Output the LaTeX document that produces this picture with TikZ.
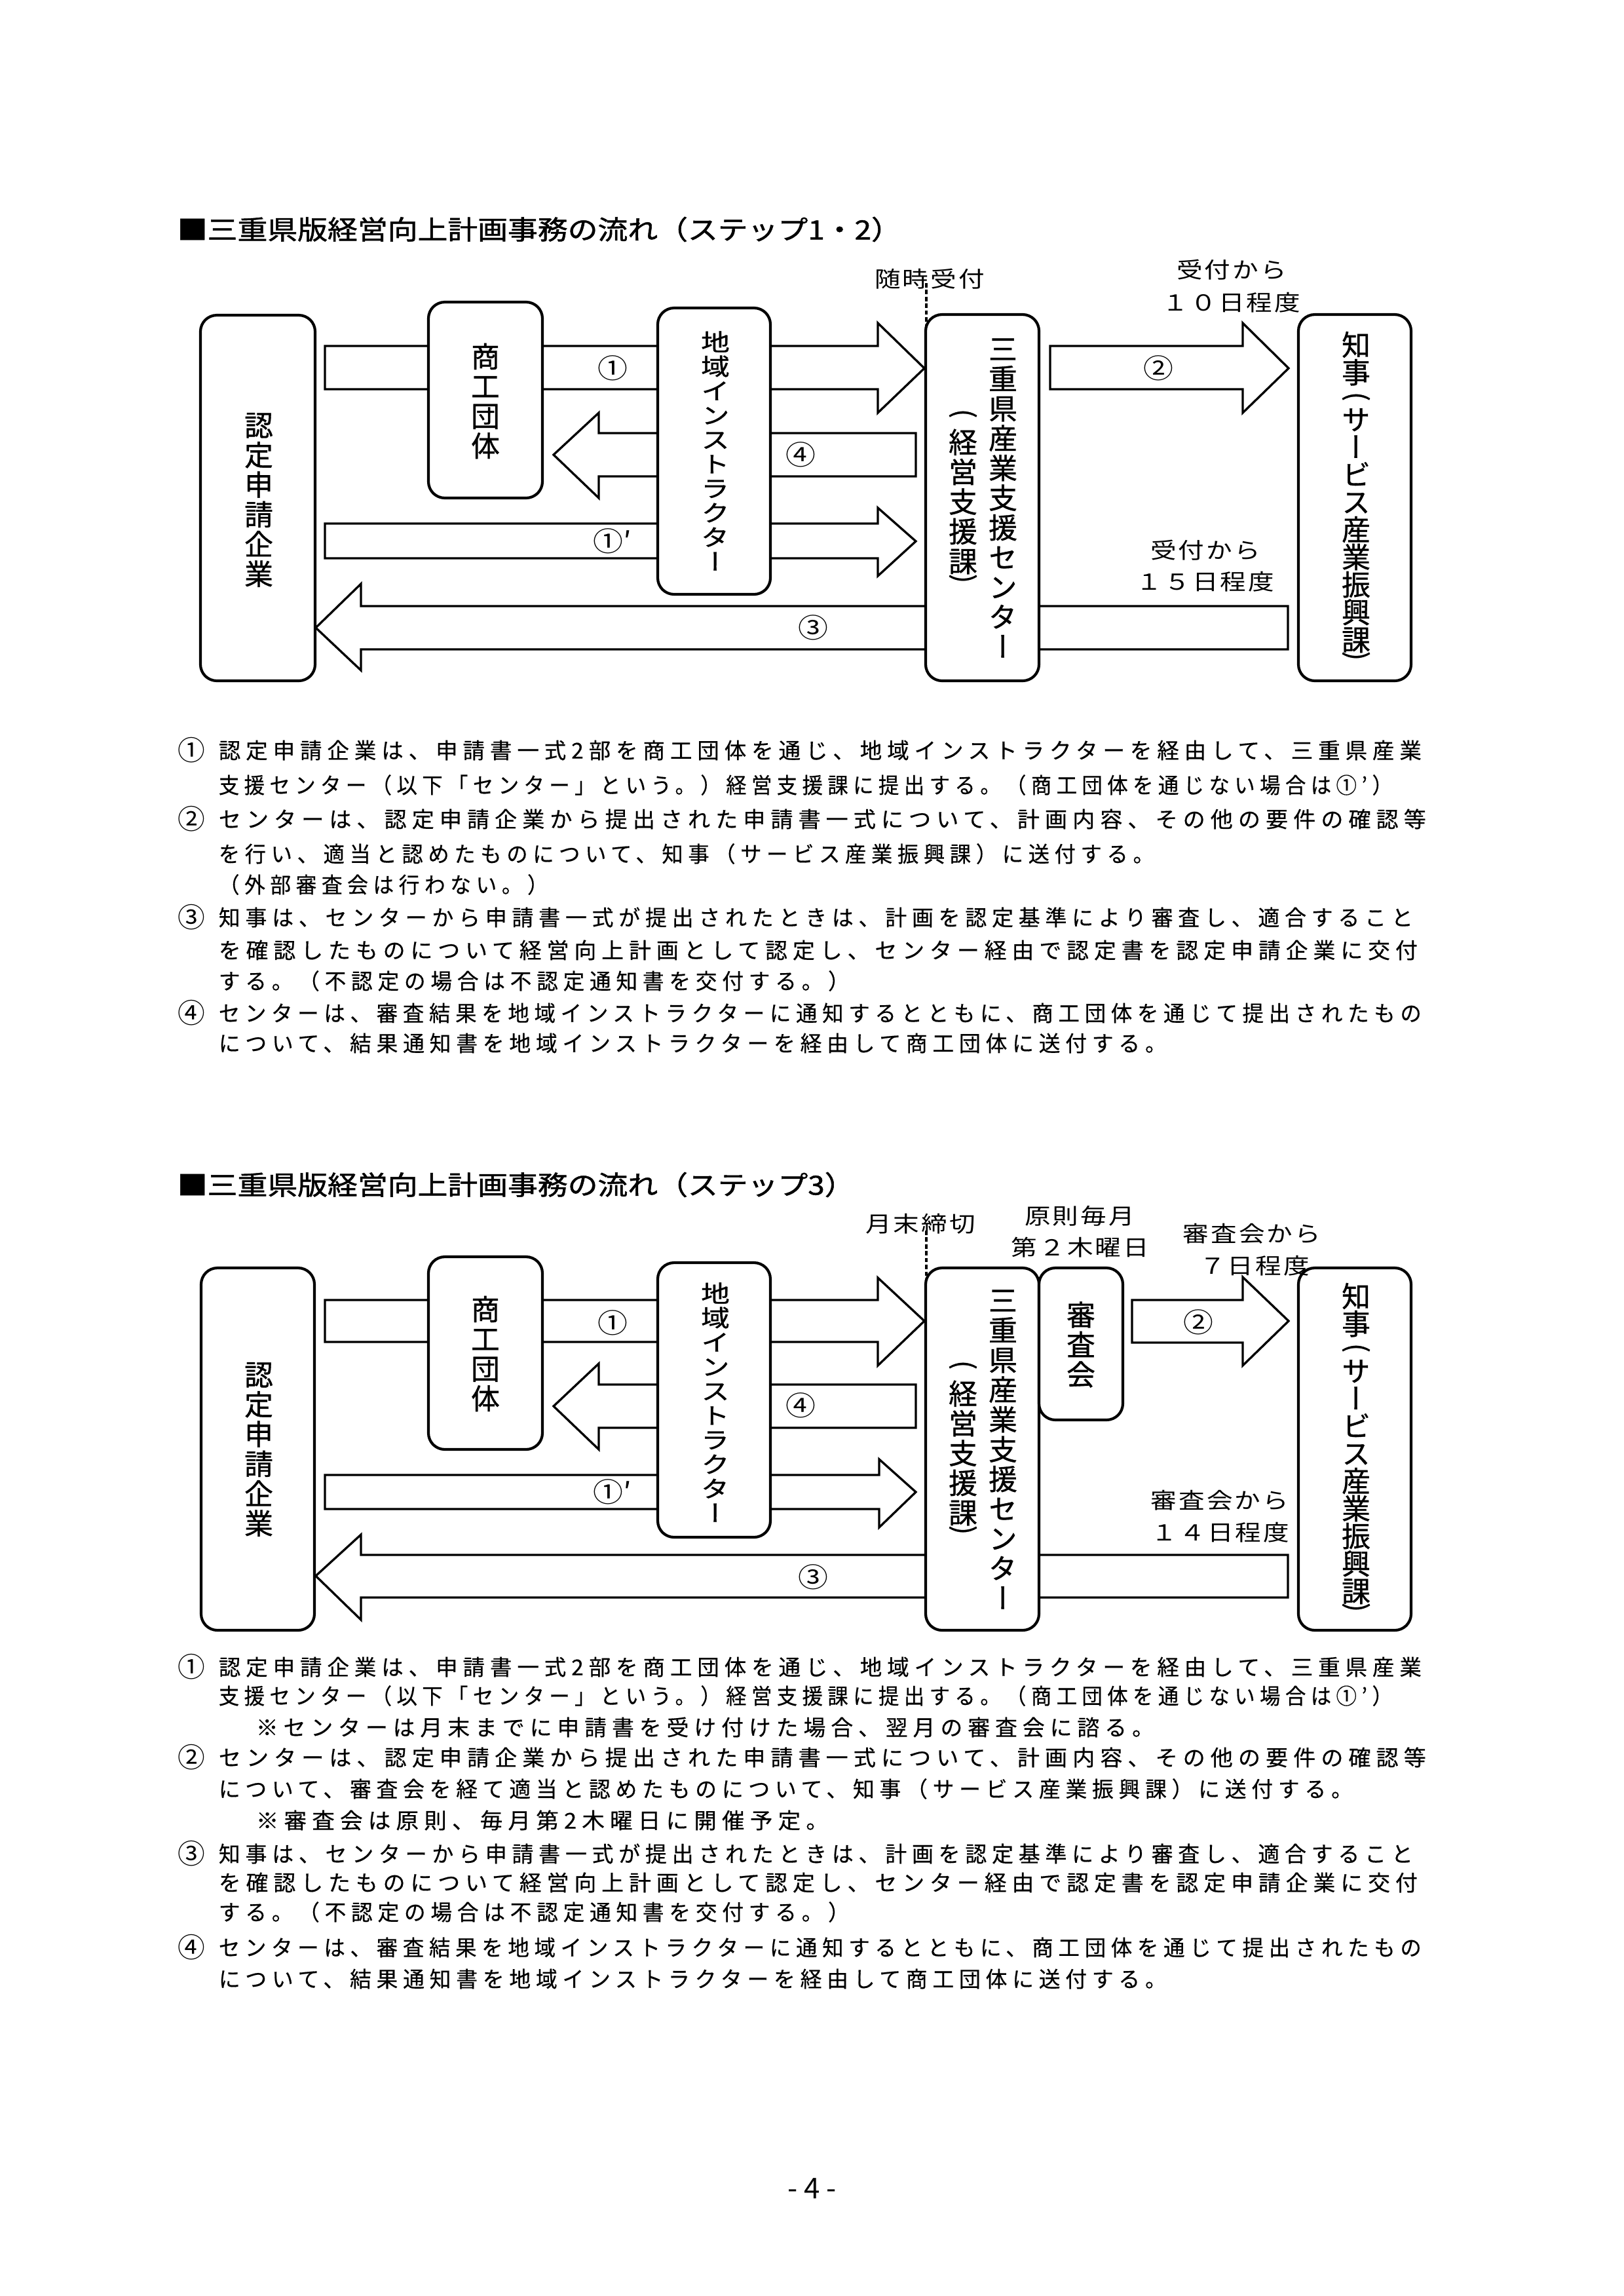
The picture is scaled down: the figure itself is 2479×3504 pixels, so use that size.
\documentclass[tikz,border=0pt]{standalone}
\usepackage{fontspec}
\usepackage{graphicx}
\newfontfamily\jp{Noto Sans CJK JP}
\newfontfamily\jpt[FakeBold=1.2]{Noto Sans CJK JP}
\newfontfamily\jpv[RawFeature=+vert,FakeBold=0.8]{Noto Sans CJK JP}
\newfontfamily\jpd[LetterSpace=23.6,FakeBold=0.4]{Noto Sans CJK JP}
\newfontfamily\jpl[LetterSpace=8]{Noto Sans CJK JP}
\newdimen\pxu \pxu=0.24pt
\newcommand\vcol[1]{\vbox{\lineskiplimit=-100pt\lineskip=0pt\halign{\hfil##\hfil\cr#1\crcr}}}
\newcommand\bk[1]{\noalign{\kern#1}}
\newcommand\sq[2]{\scalebox{1}[#1]{#2}}
\newcommand\dl[2]{\resizebox{\dimexpr #1\pxu-327\pxu\relax}{\height}{#2}}
\newcommand\dls[2]{\resizebox{\dimexpr #1\pxu-384\pxu\relax}{\height}{#2}}
\newcommand\barr[8]{\draw[barrow] (#1,#5) -- (#2,#5) -- (#2,#7) -- (#3,#4) -- (#2,#8) -- (#2,#6) -- (#1,#6) -- cycle;}
\tikzset{
  box/.style={draw, line width=1pt, rounded corners=6pt, fill=white, inner sep=0pt},
  barrow/.style={draw, line width=0.8pt, fill=white, line join=miter},
  vt/.style={inner sep=0pt, font=\jpv\fontsize{10.5}{10.9}\selectfont},
  vtc/.style={inner sep=0pt, font=\jpv\fontsize{10.5}{10.08}\selectfont},
  brk/.style={inner sep=0pt, font=\jpv\fontsize{10}{12}\selectfont},
  lab/.style={inner sep=0pt, font=\jpl\fontsize{9.5}{11}\selectfont},
  anum/.style={inner sep=0pt, font=\jp\fontsize{11}{13}\selectfont},
  dnum/.style={inner sep=0pt, font=\jp\fontsize{10}{12}\selectfont},
  dtxt/.style={anchor=west, inner sep=0pt, font=\jpd\fontsize{8}{9}\selectfont},
  ttl/.style={anchor=west, inner sep=0pt, font=\jpt\fontsize{11}{13}\selectfont},
  dotline/.style={line width=1pt, dash pattern=on 1.6pt off 0.9pt},
}
\begin{document}
\begin{tikzpicture}[x=0.24pt,y=-0.24pt]
\useasboundingbox (0,0) rectangle (2479,3504);
\fill[white] (0,0) rectangle (2479,3504);

% ================= STEP 1-2 =================
\node[ttl] (titleA) at (270,350) {\sq{0.88}{■三重県版経営向上計画事務の流れ（ステップ1・2）}};

\barr{496}{1340}{1411}{562}{528}{594}{493}{630}
\barr{1398}{914}{845}{694}{661}{727}{630}{760}
\barr{496}{1340}{1398}{826}{799}{852}{775}{879}
\barr{1966}{551}{482}{958}{925}{991}{891}{1023}
\barr{1603}{1897}{1967}{562}{528}{594}{493}{630}

\coordinate (dotA) at (1414,432);
\draw[dotline] (dotA) -- (1414,500);

\node[box, minimum width=175\pxu, minimum height=558\pxu] (kigyoA) at (393.5,760) {};
\node[box, minimum width=174\pxu, minimum height=299\pxu] (shokoA) at (741,610.5) {};
\node[box, minimum width=172\pxu, minimum height=437\pxu] (chiikiA) at (1090,688.5) {};
\node[box, minimum width=173\pxu, minimum height=559\pxu] (centerA) at (1499.5,759.5) {};
\node[box, minimum width=172\pxu, minimum height=559\pxu] (chijiA) at (2068,759.5) {};

\node[vt] (tKigyoA) at (395,763) {\vcol{認\cr 定\cr 申\cr 請\cr 企\cr 業}};
\node[vt] (tShokoA) at (741,612) {\vcol{商\cr 工\cr 団\cr 体}};
\node[vt] (tChiikiA) at (1092,688) {\sq{0.82}{\vcol{地\cr 域\cr イ\cr ン\cr ス\cr ト\cr ラ\cr ク\cr タ\cr ー}}};
\node[vt] (tCenterA) at (1531,760) {\vcol{三\cr 重\cr 県\cr 産\cr 業\cr 支\cr 援\cr セ\cr ン\cr タ\cr ー}};
\node[vt] (tKeieiA) at (1470,765.5) {\vcol{経\cr 営\cr 支\cr 援\cr 課}};
\node[brk] (bKeieiA1) at (1470,634) {\rotatebox[origin=c]{-90}{(}};
\node[brk] (bKeieiA2) at (1470,886) {\rotatebox[origin=c]{-90}{)}};
\node[vtc] (tChijiA) at (2070,751) {\vcol{知\cr 事\cr\bk{7.2pt} サ\cr ー\cr ビ\cr ス\cr 産\cr 業\cr 振\cr 興\cr 課}};
\node[brk] (bChijiA1) at (2070,608) {\rotatebox[origin=c]{-90}{(}};
\node[brk] (bChijiA2) at (2070,1004) {\rotatebox[origin=c]{-90}{)}};

\node[anum] (nA1) at (935,562) {\sq{0.9}{①}};
\node[anum] (nA4) at (1222,694) {\sq{0.9}{④}};
\node[anum] (nA1p) at (935,826) {\sq{0.9}{①′}};
\node[anum] (nA3) at (1241,958) {\sq{0.9}{③}};
\node[anum] (nA2) at (1768,562) {\sq{0.9}{②}};

\node[lab] (zuijiA) at (1419,426) {\sq{0.85}{随時受付}};
\node[lab] (uke10a) at (1880,412) {\sq{0.85}{受付から}};
\node[lab] (uke10b) at (1880,462) {\sq{0.85}{１０日程度}};
\node[lab] (uke15a) at (1840,840) {\sq{0.85}{受付から}};
\node[lab] (uke15b) at (1840,888) {\sq{0.85}{１５日程度}};

\node[dnum] (dA1n) at (292,1145) {①};
\node[dtxt] (dA1) at (333,1145) {\dl{2163}{認定申請企業は、申請書一式2部を商工団体を通じ、地域インストラクターを経由して、三重県産業}};
\node[dtxt] (dA2) at (333,1198) {\dl{2119}{支援センター（以下「センター」という。）経営支援課に提出する。（商工団体を通じない場合は①’）}};
\node[dnum] (dA3n) at (292,1250) {②};
\node[dtxt] (dA3) at (333,1250) {\dl{2170}{センターは、認定申請企業から提出された申請書一式について、計画内容、その他の要件の確認等}};
\node[dtxt] (dA4) at (333,1303) {\dl{1755}{を行い、適当と認めたものについて、知事（サービス産業振興課）に送付する。}};
\node[dtxt] (dA5) at (333,1350) {\dl{830}{（外部審査会は行わない。）}};
\node[dnum] (dA6n) at (292,1400) {③};
\node[dtxt] (dA6) at (333,1400) {\dl{2150}{知事は、センターから申請書一式が提出されたときは、計画を認定基準により審査し、適合すること}};
\node[dtxt] (dA7) at (333,1450) {\dl{2157}{を確認したものについて経営向上計画として認定し、センター経由で認定書を認定申請企業に交付}};
\node[dtxt] (dA8) at (333,1497) {\dl{1290}{する。（不認定の場合は不認定通知書を交付する。）}};
\node[dnum] (dA9n) at (292,1546) {④};
\node[dtxt] (dA9) at (333,1546) {\dl{2163}{センターは、審査結果を地域インストラクターに通知するとともに、商工団体を通じて提出されたもの}};
\node[dtxt] (dA10) at (333,1592) {\dl{1774}{について、結果通知書を地域インストラクターを経由して商工団体に送付する。}};

% ================= STEP 3 =================
\node[ttl] (titleB) at (270,1808) {\sq{0.88}{■三重県版経営向上計画事務の流れ（ステップ3）}};

\barr{496}{1340}{1411}{2016}{1984}{2048}{1950}{2084}
\barr{1398}{914}{845}{2146}{2113}{2179}{2081}{2212}
\barr{496}{1342}{1398}{2277}{2251}{2303}{2227}{2331}
\barr{1966}{551}{482}{2405}{2373}{2438}{2342}{2472}
\barr{1728}{1897}{1967}{2016}{1984}{2049}{1949}{2084}

\coordinate (dotB) at (1414,1878);
\draw[dotline] (dotB) -- (1414,1955);

\node[box, minimum width=173\pxu, minimum height=553\pxu] (kigyoB) at (393.5,2211.5) {};
\node[box, minimum width=174\pxu, minimum height=294\pxu] (shokoB) at (741,2065) {};
\node[box, minimum width=172\pxu, minimum height=419\pxu] (chiikiB) at (1090,2136.5) {};
\node[box, minimum width=173\pxu, minimum height=553\pxu] (centerB) at (1499.5,2211.5) {};
\node[box, minimum width=128\pxu, minimum height=232\pxu] (shinsaB) at (1650,2051) {};
\node[box, minimum width=172\pxu, minimum height=553\pxu] (chijiB) at (2068,2211.5) {};

\node[vt] (tKigyoB) at (395,2212) {\vcol{認\cr 定\cr 申\cr 請\cr 企\cr 業}};
\node[vt] (tShokoB) at (741,2066) {\vcol{商\cr 工\cr 団\cr 体}};
\node[vt] (tChiikiB) at (1092,2140) {\sq{0.82}{\vcol{地\cr 域\cr イ\cr ン\cr ス\cr ト\cr ラ\cr ク\cr タ\cr ー}}};
\node[vt] (tCenterB) at (1531,2212) {\vcol{三\cr 重\cr 県\cr 産\cr 業\cr 支\cr 援\cr セ\cr ン\cr タ\cr ー}};
\node[vt] (tKeieiB) at (1470,2217.5) {\vcol{経\cr 営\cr 支\cr 援\cr 課}};
\node[brk] (bKeieiB1) at (1470,2086) {\rotatebox[origin=c]{-90}{(}};
\node[brk] (bKeieiB2) at (1470,2338) {\rotatebox[origin=c]{-90}{)}};
\node[vt] (tShinsaB) at (1650,2052) {\vcol{審\cr 査\cr 会}};
\node[vtc] (tChijiB) at (2070,2203) {\vcol{知\cr 事\cr\bk{7.2pt} サ\cr ー\cr ビ\cr ス\cr 産\cr 業\cr 振\cr 興\cr 課}};
\node[brk] (bChijiB1) at (2070,2060) {\rotatebox[origin=c]{-90}{(}};
\node[brk] (bChijiB2) at (2070,2456) {\rotatebox[origin=c]{-90}{)}};

\node[anum] (nB1) at (935,2019) {\sq{0.9}{①}};
\node[anum] (nB4) at (1222,2145) {\sq{0.9}{④}};
\node[anum] (nB1p) at (935,2277) {\sq{0.9}{①′}};
\node[anum] (nB3) at (1241,2407) {\sq{0.9}{③}};
\node[anum] (nB2) at (1829,2018) {\sq{0.9}{②}};

\node[lab] (getsumatsu) at (1405,1868) {\sq{0.85}{月末締切}};
\node[lab] (gensoku) at (1648,1856) {\sq{0.85}{原則毎月}};
\node[lab] (dai2) at (1649,1904) {\sq{0.85}{第２木曜日}};
\node[lab] (shin7a) at (1911,1883) {\sq{0.85}{審査会から}};
\node[lab] (shin7b) at (1915,1932) {\sq{0.85}{７日程度}};
\node[lab] (shin14a) at (1862,2290) {\sq{0.85}{審査会から}};
\node[lab] (shin14b) at (1863,2339) {\sq{0.85}{１４日程度}};

\node[dnum] (dB1n) at (292,2544) {①};
\node[dtxt] (dB1) at (333,2544) {\dl{2163}{認定申請企業は、申請書一式2部を商工団体を通じ、地域インストラクターを経由して、三重県産業}};
\node[dtxt] (dB2) at (333,2588) {\dl{2119}{支援センター（以下「センター」という。）経営支援課に提出する。（商工団体を通じない場合は①’）}};
\node[dtxt] (dB3) at (390,2636) {\dls{1755}{※センターは月末までに申請書を受け付けた場合、翌月の審査会に諮る。}};
\node[dnum] (dB4n) at (292,2682) {②};
\node[dtxt] (dB4) at (333,2682) {\dl{2170}{センターは、認定申請企業から提出された申請書一式について、計画内容、その他の要件の確認等}};
\node[dtxt] (dB5) at (333,2730) {\dl{2058}{について、審査会を経て適当と認めたものについて、知事（サービス産業振興課）に送付する。}};
\node[dtxt] (dB6) at (390,2778) {\dls{1258}{※審査会は原則、毎月第2木曜日に開催予定。}};
\node[dnum] (dB7n) at (292,2829) {③};
\node[dtxt] (dB7) at (333,2829) {\dl{2150}{知事は、センターから申請書一式が提出されたときは、計画を認定基準により審査し、適合すること}};
\node[dtxt] (dB8) at (333,2873) {\dl{2157}{を確認したものについて経営向上計画として認定し、センター経由で認定書を認定申請企業に交付}};
\node[dtxt] (dB9) at (333,2918) {\dl{1290}{する。（不認定の場合は不認定通知書を交付する。）}};
\node[dnum] (dB10n) at (292,2972) {④};
\node[dtxt] (dB10) at (333,2972) {\dl{2163}{センターは、審査結果を地域インストラクターに通知するとともに、商工団体を通じて提出されたもの}};
\node[dtxt] (dB11) at (333,3020) {\dl{1774}{について、結果通知書を地域インストラクターを経由して商工団体に送付する。}};

\node[inner sep=0pt, font=\jp\fontsize{10.5}{12}\selectfont] (pageno) at (1240,3340) {- 4 -};
\end{tikzpicture}
\end{document}
